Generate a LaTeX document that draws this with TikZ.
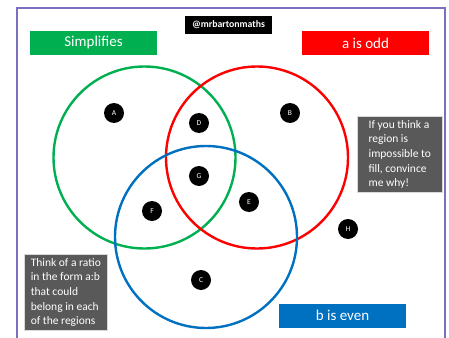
\documentclass[tikz,border=0pt]{standalone}
\usepackage{fontspec}
\setmainfont{Carlito}
\definecolor{framepurple}{RGB}{122,112,190}
\definecolor{setgreen}{RGB}{0,176,80}
\definecolor{setred}{RGB}{255,0,0}
\definecolor{setblue}{RGB}{0,112,192}
\definecolor{notegray}{RGB}{89,89,89}
\begin{document}
\begin{tikzpicture}[x=1pt,y=-1pt,
  setline/.style={line width=2.4pt},
  titlebox/.style={fill=#1, text=white, minimum width=127pt, minimum height=24pt,
    inner sep=0pt, font=\fontsize{15}{18}\selectfont},
  dot/.style={circle, fill=black, minimum size=20pt, inner sep=0pt, text=white,
    font=\fontsize{7.5}{8}\selectfont},
  notebox/.style={fill=notegray, text=white, draw=white!85!black, line width=0.6pt,
    anchor=north west, inner sep=4pt, align=left,
    font=\fontsize{11.5}{14.6}\selectfont}]
  \useasboundingbox (0,0) rectangle (449,337);
  \clip (0,0) rectangle (449,337);
  % outer frame, open at the bottom edge
  \draw[framepurple, line width=2.4pt] (17,345) -- (17,8) -- (445,8) -- (445,345);

  % handle and set titles
  \node[fill=black, text=white, minimum width=87pt, minimum height=18pt, inner sep=0pt,
    font=\fontsize{9.8}{11}\selectfont\bfseries] (handle) at (228.5,25) {@mrbartonmaths};
  \node[titlebox=setgreen] (simp) at (93.5,43) {Simplifies};
  \node[titlebox=setred] (odd) at (365.5,43) {a is odd};
  \node[titlebox=setblue] (even) at (342.5,315.5) {b is even};

  % the three sets
  \draw[setline, setgreen] (144.5,157.5) circle (91);
  \draw[setline, setred] (257,157.5) circle (91);
  \draw[setline, setblue] (206,237) circle (91);

  % region markers
  \node[dot] (A) at (114,113) {A};
  \node[dot] (B) at (290,113) {B};
  \node[dot] (D) at (199,123) {D};
  \node[dot] (G) at (199,176) {G};
  \node[dot] (E) at (249,202) {E};
  \node[dot] (F) at (152,211) {F};
  \node[dot] (H) at (348,229) {H};
  \node[dot] (C) at (201,280) {C};

  % prompts
  \node[notebox, minimum width=85pt, minimum height=76pt] (convince) at (357,116)
    {If you think a\\region is\\impossible to\\fill, convince\\me why!};
  \node[notebox, minimum width=83pt, minimum height=75pt] (ratio) at (24,254)
    {Think of a ratio\\in the form a:b\\that could\\belong in each\\of the regions};
\end{tikzpicture}
\end{document}
